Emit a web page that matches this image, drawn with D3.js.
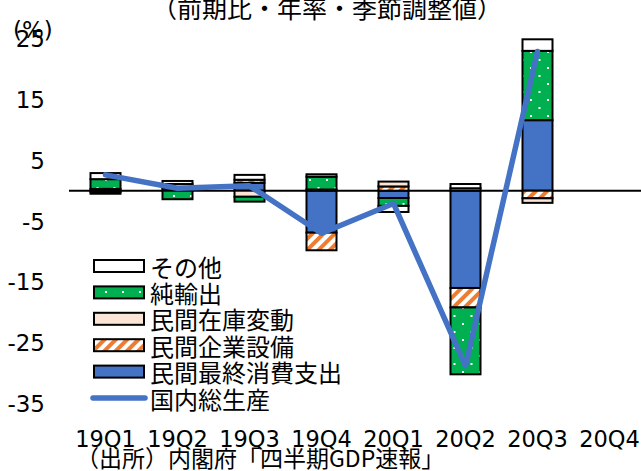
<!DOCTYPE html>
<html>
<head>
<meta charset="utf-8">
<script src="https://cdn.jsdelivr.net/npm/d3@7/dist/d3.min.js"></script>
<style>
  html, body { margin: 0; padding: 0; background: #fff; }
  svg { display: block; }
  text { font-family: "DejaVu Sans", "Noto Sans CJK JP", sans-serif; fill: #000; }
  .jp { font-family: "Noto Sans CJK JP", sans-serif; }
</style>
</head>
<body>
<script>
// Quarterly contributions to real GDP growth (annualised, % points)
const quarters    = ["19Q1", "19Q2", "19Q3", "19Q4", "20Q1", "20Q2", "20Q3", "20Q4"];
const consumption = [0.3, 0.4, 1.3, -6.9, -1.2, -16.0, 11.6, null];
const capex       = [-0.2, 0.0, 0.5, -2.9, 0.7, -3.2, -1.25, null];
const inventory   = [-0.3, 0.7, -1.0, 0.2, 0.8, 0.4, -0.75, null];
const netExports  = [1.6, -1.4, -0.8, 2.1, -1.3, -11.0, 11.4, null];
const other       = [1.0, 0.5, 0.8, 0.4, -1.0, 0.7, 1.9, null];
const gdp         = [2.6, 0.4, 0.8, -7.0, -2.1, -28.8, 22.9, null];

const yTicks = [25, 15, 5, -5, -15, -25, -35];
const seriesNames = {
  consumption: "民間最終消費支出",
  capex: "民間企業設備",
  inventory: "民間在庫変動",
  netExports: "純輸出",
  other: "その他",
  gdp: "国内総生産"
};
const titleText = "（前期比・年率・季節調整値）";
const unitText = "(%)";
const sourceText = "（出所）内閣府「四半期GDP速報」";

const W = 641, H = 471;
const svg = d3.select("body").append("svg").attr("width", W).attr("height", H);

// fills
const defs = svg.append("defs");
const hatch = defs.append("pattern").attr("id", "hatch")
  .attr("patternUnits", "userSpaceOnUse").attr("width", 8).attr("height", 8)
  .attr("patternTransform", "rotate(45)");
hatch.append("rect").attr("width", 8).attr("height", 8).attr("fill", "#fff");
hatch.append("rect").attr("width", 4).attr("height", 8).attr("fill", "#ED7D31");

const dots = defs.append("pattern").attr("id", "dots")
  .attr("patternUnits", "userSpaceOnUse").attr("width", 17).attr("height", 16);
dots.append("rect").attr("width", 17).attr("height", 16).attr("fill", "#00B050");
dots.append("rect").attr("x", 3).attr("y", 3).attr("width", 2).attr("height", 2).attr("fill", "#fff");
dots.append("rect").attr("x", 11.5).attr("y", 11).attr("width", 2).attr("height", 2).attr("fill", "#fff");

const fills = {
  consumption: "#4472C4",
  capex: "url(#hatch)",
  inventory: "#FBE5D6",
  netExports: "url(#dots)",
  other: "#FFFFFF"
};

// scales
const x = d3.scaleBand().domain(quarters).range([69.5, 645.5])
  .paddingInner(0.5833).paddingOuter(0.2917);
const y = d3.scaleLinear().domain([-35, 25]).range([403.5, 38.7]);

// stacked data
const keys = ["consumption", "capex", "inventory", "netExports", "other"];
const arrays = { consumption, capex, inventory, netExports, other };
const rows = quarters.map((q, i) => {
  const r = { q };
  keys.forEach(k => r[k] = arrays[k][i] == null ? 0 : arrays[k][i]);
  r.has = gdp[i] != null;
  return r;
});
const stacked = d3.stack().keys(keys).offset(d3.stackOffsetDiverging)(rows);

// y-axis labels
const yAxis = svg.append("g").attr("class", "y-axis");
yAxis.selectAll("text").data(yTicks).join("text")
  .attr("x", 45).attr("y", d => y(d) + 2)
  .attr("text-anchor", "end").attr("dominant-baseline", "middle")
  .attr("font-size", 23).text(d => d);

// zero line
svg.append("line")
  .attr("x1", 69).attr("x2", W)
  .attr("y1", y(0)).attr("y2", y(0))
  .attr("stroke", "#000").attr("stroke-width", 2);

// bars
const barG = svg.append("g");
stacked.forEach(s => {
  barG.append("g").selectAll("rect")
    .data(s.filter(d => d.data.has && d[1] !== d[0]))
    .join("rect")
    .attr("x", d => x(d.data.q))
    .attr("width", x.bandwidth())
    .attr("y", d => y(Math.max(d[0], d[1])))
    .attr("height", d => Math.abs(y(d[0]) - y(d[1])))
    .attr("fill", fills[s.key])
    .attr("stroke", "#000").attr("stroke-width", 2);
});

// GDP line
const gdpPts = quarters.map((q, i) => ({ q, v: gdp[i] })).filter(d => d.v != null);
svg.append("path")
  .datum(gdpPts)
  .attr("fill", "none").attr("stroke", "#4472C4")
  .attr("stroke-width", 5.5).attr("stroke-linejoin", "round").attr("stroke-linecap", "round")
  .attr("d", d3.line().x(d => x(d.q) + x.bandwidth() / 2).y(d => y(d.v)));

// x labels
svg.append("g").selectAll("text").data(quarters).join("text")
  .attr("x", d => x(d) + x.bandwidth() / 2).attr("y", 447)
  .attr("text-anchor", "middle").attr("font-size", 22.5).text(d => d);

// legend
const legendItems = ["other", "netExports", "inventory", "capex", "consumption", "gdp"];
const lg = svg.append("g");
legendItems.forEach((k, i) => {
  const cy = 266 + i * 26.4;
  if (k === "gdp") {
    lg.append("line").attr("x1", 93).attr("x2", 145).attr("y1", cy).attr("y2", cy)
      .attr("stroke", "#4472C4").attr("stroke-width", 5.5).attr("stroke-linecap", "round");
  } else {
    lg.append("rect").attr("x", 94).attr("y", cy - 6).attr("width", 50).attr("height", 12)
      .attr("fill", fills[k]).attr("stroke", "#000").attr("stroke-width", 2);
  }
  lg.append("text").attr("class", "jp").attr("x", 150).attr("y", cy)
    .attr("dominant-baseline", "central").attr("font-size", 24).text(seriesNames[k]);
});

// title, unit, source
svg.append("text").attr("class", "jp").attr("x", 327).attr("y", 18)
  .attr("text-anchor", "middle").attr("font-size", 25).text(titleText);
svg.append("text").attr("x", 13).attr("y", 38).attr("font-size", 23).text(unitText);
svg.append("text").attr("class", "jp").attr("x", 76).attr("y", 467)
  .attr("font-size", 23).text(sourceText);
</script>
</body>
</html>
